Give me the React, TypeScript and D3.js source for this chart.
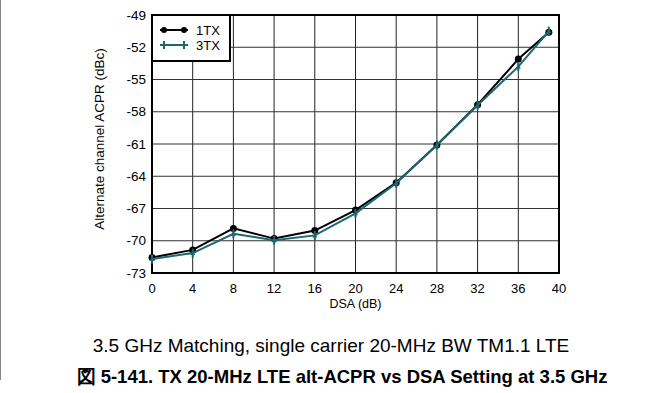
import React from "react";
import * as d3 from "d3";

const dsa = [0, 4, 8, 12, 16, 20, 24, 28, 32, 36, 39];
const tx1 = [-71.55, -70.85, -68.85, -69.8, -69.05, -67.15, -64.6, -61.1, -57.35, -53.1, -50.6];
const tx3 = [-71.7, -71.15, -69.35, -69.95, -69.5, -67.45, -64.65, -61.1, -57.4, -53.8, -50.5];
const xTicks = [0, 4, 8, 12, 16, 20, 24, 28, 32, 36, 40];
const yTicks = [-73, -70, -67, -64, -61, -58, -55, -52, -49];
const seriesNames = ["1TX", "3TX"];
const colors = ["#000000", "#1d6674"];

const L = 152, R = 559, T = 15, B = 273;

export default function App() {
  const x = d3.scaleLinear().domain([0, 40]).range([L, R]);
  const y = d3.scaleLinear().domain([-73, -49]).range([B, T]);
  const line = d3.line<[number, number]>().x(d => x(d[0])).y(d => y(d[1]));
  const s1 = dsa.map((d, i) => [d, tx1[i]] as [number, number]);
  const s3 = dsa.map((d, i) => [d, tx3[i]] as [number, number]);
  const font = "Arial, 'Liberation Sans', sans-serif";
  return (
    <svg width={663} height={393} style={{ position: "absolute", left: 0, top: 0, background: "#fff" }} fontFamily={font}>
      <line x1={0.5} x2={0.5} y1={0} y2={380} stroke="#888" strokeWidth={1} />
      {xTicks.slice(1, -1).map(t => (
        <line key={"gx" + t} x1={x(t)} x2={x(t)} y1={T} y2={B} stroke="#222" strokeWidth={1} />
      ))}
      {yTicks.slice(1, -1).map(t => (
        <line key={"gy" + t} x1={L} x2={R} y1={y(t)} y2={y(t)} stroke="#333" strokeWidth={1} />
      ))}
      <rect x={L} y={T} width={R - L} height={B - T} fill="none" stroke="#000" strokeWidth={2} />
      {yTicks.map(t => (
        <text key={"yt" + t} x={146} y={y(t)} dy="0.35em" textAnchor="end" fontSize={13.5} fill="#000">{t}</text>
      ))}
      {xTicks.map(t => (
        <text key={"xt" + t} x={x(t)} y={288.5} dy="0.35em" textAnchor="middle" fontSize={13} fill="#000">{t}</text>
      ))}
      <text x={(L + R) / 2} y={304} dy="0.35em" textAnchor="middle" fontSize={12.5} fill="#000">DSA (dB)</text>
      <text transform={`translate(99,139) rotate(-90)`} textAnchor="middle" dy="0.35em" fontSize={13.5} fill="#000">
        Alternate channel ACPR (dBc)
      </text>
      <path d={line(s1) || ""} fill="none" stroke={colors[0]} strokeWidth={2} />
      {s1.map((d, i) => (
        <circle key={"m1" + i} cx={x(d[0])} cy={y(d[1])} r={3.5} fill={colors[0]} />
      ))}
      <path d={line(s3) || ""} fill="none" stroke={colors[1]} strokeWidth={2} />
      {s3.map((d, i) => (
        <g key={"m3" + i}>
          <line x1={x(d[0])} x2={x(d[0])} y1={y(d[1]) - 4.5} y2={y(d[1]) + 4.5} stroke={colors[1]} strokeWidth={2} />
          <path d={`M${x(d[0])},${y(d[1]) - 3}L${x(d[0]) + 2.5},${y(d[1]) + 2}L${x(d[0]) - 2.5},${y(d[1]) + 2}Z`} fill={colors[1]} />
        </g>
      ))}
      <rect x={L} y={T} width={78} height={46} fill="#fff" stroke="#000" strokeWidth={2} />
      {seriesNames.map((n, i) => {
        const ly = 30 + i * 15;
        return (
          <g key={n}>
            <line x1={160} x2={188} y1={ly} y2={ly} stroke={colors[i]} strokeWidth={2} />
            {[164, 184].map(mx =>
              i === 0 ? (
                <circle key={mx} cx={mx} cy={ly} r={3} fill={colors[0]} />
              ) : (
                <line key={mx} x1={mx} x2={mx} y1={ly - 4} y2={ly + 4} stroke={colors[1]} strokeWidth={2} />
              )
            )}
            <text x={196} y={ly} dy="0.35em" fontSize={13} fill="#000">{n}</text>
          </g>
        );
      })}
      <text x={331} y={345} dy="0.35em" textAnchor="middle" fontSize={19} fill="#000">
        3.5 GHz Matching, single carrier 20-MHz BW TM1.1 LTE
      </text>
      <text x={342} y={377} dy="0.35em" textAnchor="middle" fontSize={18.5} fontWeight="bold" fill="#000">
        図 5-141. TX 20-MHz LTE alt-ACPR vs DSA Setting at 3.5 GHz
      </text>
    </svg>
  );
}
